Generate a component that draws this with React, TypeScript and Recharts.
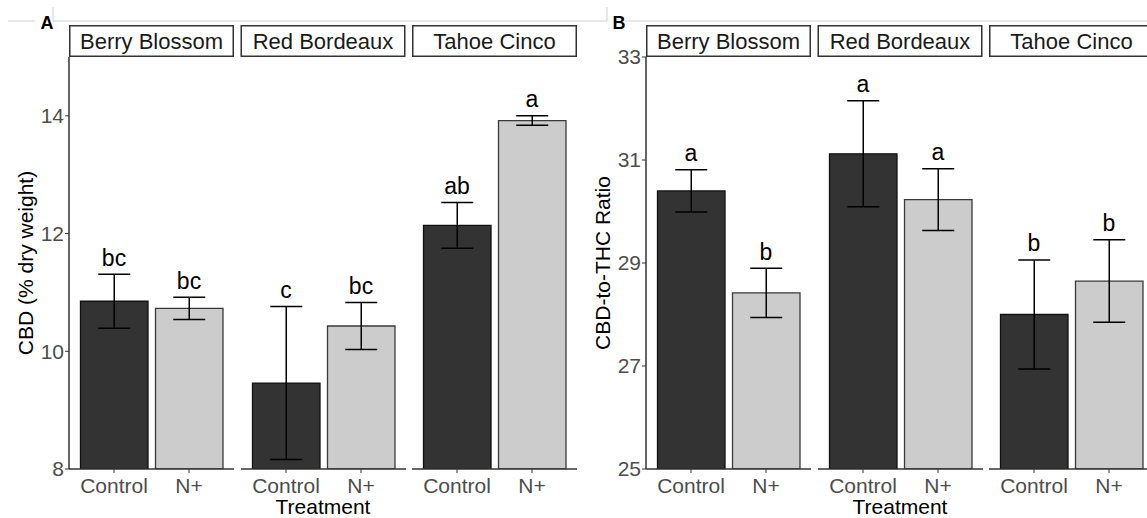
import { Bar, Cell, ComposedChart, ErrorBar, Label, Scatter, XAxis, YAxis } from "recharts";

const strains = ["Berry Blossom", "Red Bordeaux", "Tahoe Cinco"];
const treatments = ["Control", "N+"];

// panel A: CBD (% dry weight)
const cbdControl = [10.85, 9.46, 12.14];
const cbdNplus = [10.73, 10.43, 13.92];
const cbdControlSe = [0.46, 1.3, 0.39];
const cbdNplusSe = [0.19, 0.4, 0.08];
const cbdControlLetters = ["bc", "c", "ab"];
const cbdNplusLetters = ["bc", "bc", "a"];
const cbdTicks = [8, 10, 12, 14];
const cbdDomain = [8, 15];

// panel B: CBD-to-THC ratio
const ratioControl = [30.4, 31.12, 28.0];
const ratioNplus = [28.42, 30.23, 28.65];
const ratioControlSe = [0.41, 1.03, 1.06];
const ratioNplusSe = [0.48, 0.6, 0.8];
const ratioControlLetters = ["a", "a", "b"];
const ratioNplusLetters = ["b", "a", "b"];
const ratioTicks = [25, 27, 29, 31, 33];
const ratioDomain = [25, 33];

const FONT = '"Liberation Sans", Arial, Helvetica, sans-serif';
const FACET_W = 165;
const FACET_GAP = 6.5;
const PLOT_TOP = 57;
const PLOT_H = 412;
const TOP_PAD = 14;
const XAXIS_H = 45;
const fills = ["#333333", "#cccccc"];
const strokes = ["#111111", "#3a3a3a"];

type Row = { trt: string; mean: number; se: number; top: number; letter: string };

function facetRows(
  control: number[], nplus: number[], controlSe: number[], nplusSe: number[],
  controlLetters: string[], nplusLetters: string[], i: number,
): Row[] {
  return [
    { trt: treatments[0], mean: control[i], se: controlSe[i], top: control[i] + controlSe[i], letter: controlLetters[i] },
    { trt: treatments[1], mean: nplus[i], se: nplusSe[i], top: nplus[i] + nplusSe[i], letter: nplusLetters[i] },
  ];
}

function LetterShape(props: any) {
  const { cx, cy, payload } = props;
  if (cx == null || cy == null) return null;
  return (
    <text x={cx} y={cy - 8.5} textAnchor="middle" fontSize={23} fontFamily={FONT} fill="#000">
      {payload.letter}
    </text>
  );
}

type PanelProps = {
  plotLeft: number;
  yW: number;
  yTitle: string;
  yTitleOffset: number;
  domain: number[];
  ticks: number[];
  rows: Row[][];
};

function Panel({ plotLeft, yW, yTitle, yTitleOffset, domain, ticks, rows }: PanelProps) {
  return (
    <>
      {rows.map((data, i) => {
        const first = i === 0;
        const left = plotLeft + i * (FACET_W + FACET_GAP) - (first ? yW : 0);
        return (
          <div key={i} style={{ position: "absolute", left, top: PLOT_TOP - TOP_PAD }}>
            <ComposedChart
              width={FACET_W + (first ? yW : 0)}
              height={TOP_PAD + PLOT_H + XAXIS_H}
              data={data}
              margin={{ top: TOP_PAD, right: 0, bottom: 0, left: 0 }}
            >
              <XAxis
                dataKey="trt"
                type="category"
                interval={0}
                height={XAXIS_H}
                padding={{ left: 7.5, right: 7.5 }}
                tick={{ fontSize: 21, fill: "#4d4d4d", fontFamily: FONT }}
                tickSize={4}
                tickMargin={5}
                axisLine={{ stroke: "#333", strokeWidth: 1.5 }}
                tickLine={{ stroke: "#333", strokeWidth: 1 }}
              />
              <YAxis
                type="number"
                hide={!first}
                width={yW}
                domain={domain}
                ticks={ticks}
                allowDataOverflow
                tick={{ fontSize: 21, fill: "#4d4d4d", fontFamily: FONT }}
                tickSize={4}
                tickMargin={1}
                axisLine={{ stroke: "#333", strokeWidth: 1.5 }}
                tickLine={{ stroke: "#333", strokeWidth: 1 }}
              >
                {first && (
                  <Label
                    content={(p: any) => {
                      const vb = p.viewBox ?? { x: 0, y: TOP_PAD, width: yW, height: PLOT_H };
                      const cx = vb.x + yTitleOffset;
                      const cy = vb.y + vb.height / 2;
                      return (
                        <text
                          x={cx}
                          y={cy}
                          transform={`rotate(-90 ${cx} ${cy})`}
                          textAnchor="middle"
                          dominantBaseline="central"
                          fontSize={21}
                          fontFamily={FONT}
                          fill="#000"
                        >
                          {yTitle}
                        </text>
                      );
                    }}
                  />
                )}
              </YAxis>
              <Bar dataKey="mean" barSize={67.5} isAnimationActive={false} strokeWidth={1.3}>
                {data.map((_, j) => (
                  <Cell key={j} fill={fills[j]} stroke={strokes[j]} />
                ))}
                <ErrorBar dataKey="se" width={16} stroke="#000" strokeWidth={1.5} direction="y" />
              </Bar>
              <Scatter dataKey="top" isAnimationActive={false} shape={<LetterShape />} />
            </ComposedChart>
          </div>
        );
      })}
    </>
  );
}

function Overlay() {
  const panelLefts = [69, 646];
  const centers = [323, 900];
  return (
    <svg width={1147} height={518} style={{ position: "absolute", left: 0, top: 0, pointerEvents: "none" }}>
      <g stroke="#cfcfcf" strokeWidth={1}>
        <line x1={8} y1={21} x2={35} y2={21} />
        <line x1={53} y1={21} x2={607} y2={21} />
        <line x1={625} y1={21} x2={1147} y2={21} />
        <line x1={53} y1={7} x2={53} y2={21} />
        <line x1={607} y1={7} x2={607} y2={21} />
      </g>
      <text x={47} y={28.5} textAnchor="middle" fontSize={18} fontWeight="bold" fontFamily={FONT}>A</text>
      <text x={619} y={28.5} textAnchor="middle" fontSize={18} fontWeight="bold" fontFamily={FONT}>B</text>
      {panelLefts.map((pl, p) =>
        strains.map((s, i) => {
          const x = pl + i * (FACET_W + FACET_GAP);
          return (
            <g key={`${p}-${i}`}>
              <rect x={x + 0.75} y={25.75} width={FACET_W - 1.5} height={30.5} fill="#fff" stroke="#333" strokeWidth={1.5} />
              <text x={x + FACET_W / 2} y={48.5} textAnchor="middle" fontSize={22} fontFamily={FONT} fill="#1a1a1a">
                {s}
              </text>
            </g>
          );
        }),
      )}
      {centers.map((c, p) => (
        <text key={p} x={c} y={513.5} textAnchor="middle" fontSize={21} fontFamily={FONT} fill="#000">
          Treatment
        </text>
      ))}
    </svg>
  );
}

export default function App() {
  const cbdRows = strains.map((_, i) =>
    facetRows(cbdControl, cbdNplus, cbdControlSe, cbdNplusSe, cbdControlLetters, cbdNplusLetters, i),
  );
  const ratioRows = strains.map((_, i) =>
    facetRows(ratioControl, ratioNplus, ratioControlSe, ratioNplusSe, ratioControlLetters, ratioNplusLetters, i),
  );
  return (
    <div
      style={{
        position: "absolute",
        left: 0,
        top: 0,
        width: 1147,
        height: 518,
        overflow: "hidden",
        background: "#fff",
        fontFamily: FONT,
      }}
    >
      <Panel plotLeft={69} yW={69} yTitle="CBD (% dry weight)" yTitleOffset={25} domain={cbdDomain} ticks={cbdTicks} rows={cbdRows} />
      <Panel plotLeft={646} yW={60} yTitle="CBD-to-THC Ratio" yTitleOffset={16} domain={ratioDomain} ticks={ratioTicks} rows={ratioRows} />
      <Overlay />
    </div>
  );
}
